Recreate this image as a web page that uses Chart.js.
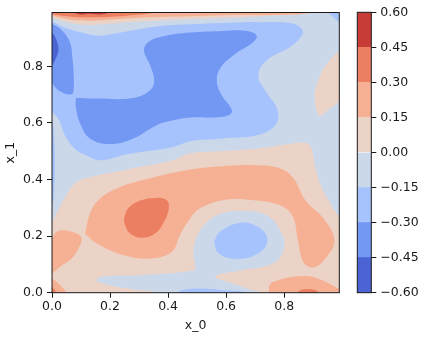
<!DOCTYPE html>
<html>
<head>
<meta charset="utf-8">
<script src="https://cdn.jsdelivr.net/npm/chart.js@4"></script>
<style>
    html, body { margin: 0; padding: 0; background: #fff; }
    canvas { position: absolute; top: 0; }
</style>
</head>
<body>
<canvas id="contour" width="340" height="337" style="left:0"></canvas>
<canvas id="colorbar" width="96" height="337" style="left:340px"></canvas>
<script>
// contour levels and their band colours (lowest band first)
var levels = [-0.6, -0.45, -0.3, -0.15, 0, 0.15, 0.3, 0.45, 0.6];
var bandColors = ['#4b63d3', '#7398f3', '#a6c3fe', '#cbd8ea', '#ecd3c7', '#f6b093', '#ec7e62', '#c83c38'];
var xTicks = [0, 0.2, 0.4, 0.6, 0.8];
var yTicks = [0, 0.2, 0.4, 0.6, 0.8];

// outlines of the filled contours, in data units
var baseField = [[-0.1, -0.1], [1.1, -0.1], [1.1, 1.1], [-0.1, 1.1]];
var peachLower = [[-0.03, 0.2], [0, 0.25], [0.028, 0.304], [0.068, 0.374], [0.097, 0.398], [0.246, 0.433], [0.418, 0.468], [0.476, 0.492], [0.59, 0.501], [0.705, 0.509], [0.82, 0.525], [0.872, 0.531], [0.892, 0.515], [0.903, 0.468], [0.907, 0.445], [0.924, 0.386], [0.959, 0.315], [0.99, 0.268], [1.03, 0.22], [1.03, -0.03], [-0.03, -0.03]];
var peachRight = [[1.03, 0.9], [0.99, 0.856], [0.947, 0.809], [0.918, 0.751], [0.905, 0.692], [0.918, 0.627], [0.93, 0.627], [0.958, 0.651], [0.99, 0.674], [1.03, 0.7]];
var peachTop = [[-0.03, 0.985], [0, 0.972], [0.055, 0.955], [0.134, 0.946], [0.217, 0.952], [0.331, 0.96], [0.476, 0.966], [0.648, 0.972], [0.762, 0.979], [0.89, 0.987], [0.93, 1.0], [0.95, 1.03], [-0.03, 1.03]];
var grayRing = [[0.38, -0.03], [0.361, 0], [0.303, 0.009], [0.223, 0.021], [0.16, 0.038], [0.154, 0.045], [0.16, 0.052], [0.189, 0.059], [0.303, 0.062], [0.487, 0.078], [0.493, 0.092], [0.487, 0.15], [0.51, 0.22], [0.568, 0.274], [0.648, 0.289], [0.74, 0.274], [0.792, 0.209], [0.798, 0.15], [0.763, 0.104], [0.648, 0.078], [0.568, 0.062], [0.562, 0.055], [0.568, 0.051], [0.63, 0.03], [0.68, 0.012], [0.717, 0], [0.74, -0.03]];
var blueEllipse = [[0.558, 0.18], [0.579, 0.215], [0.648, 0.247], [0.712, 0.231], [0.743, 0.186], [0.712, 0.139], [0.637, 0.119], [0.574, 0.139]];
var blueBottom = [[0.41, -0.03], [0.43, 0], [0.465, 0.012], [0.51, 0.015], [0.59, 0.009], [0.67, 0], [0.7, -0.03]];
var salmonMain = [[0.114, 0.209], [0.131, 0.28], [0.16, 0.327], [0.223, 0.368], [0.338, 0.404], [0.476, 0.435], [0.59, 0.447], [0.705, 0.45], [0.786, 0.439], [0.832, 0.404], [0.873, 0.327], [0.936, 0.262], [0.973, 0.186], [0.947, 0.127], [0.901, 0.089], [0.866, 0.109], [0.847, 0.186], [0.83, 0.268], [0.786, 0.309], [0.694, 0.327], [0.59, 0.327], [0.51, 0.298], [0.476, 0.262], [0.441, 0.204], [0.413, 0.145], [0.338, 0.121], [0.246, 0.133], [0.154, 0.174]];
var salmonLeft = [[-0.03, 0.05], [0, 0.068], [0.028, 0.092], [0.068, 0.121], [0.091, 0.156], [0.102, 0.192], [0.079, 0.212], [0.039, 0.221], [0.016, 0.215], [0, 0.195], [-0.03, 0.17]];
var salmonCorner = [[-0.03, 0.06], [0, 0.05], [0.028, 0.027], [0.05, 0], [0.07, -0.03], [-0.03, -0.03]];
var salmonBottomRight = [[0.752, -0.03], [0.748, 0.021], [0.763, 0.039], [0.867, 0.059], [0.936, 0.042], [0.99, 0.012], [1.03, -0.01], [1.03, -0.03]];
var salmonTop = [[-0.03, 0.99], [0, 0.979], [0.055, 0.966], [0.134, 0.961], [0.217, 0.966], [0.331, 0.973], [0.476, 0.977], [0.648, 0.981], [0.762, 0.981], [0.88, 0.987], [0.91, 1.0], [0.93, 1.03], [-0.03, 1.03]];
var orangeBlob = [[0.248, 0.262], [0.263, 0.298], [0.303, 0.325], [0.361, 0.335], [0.395, 0.327], [0.403, 0.304], [0.389, 0.256], [0.355, 0.209], [0.309, 0.194], [0.269, 0.209], [0.252, 0.239]];
var orangeCorner = [[-0.03, 0.03], [0, 0.019], [0.016, 0], [0.03, -0.03], [-0.03, -0.03]];
var orangeBottom = [[0.84, -0.03], [0.847, 0], [0.855, 0.009], [0.884, 0.013], [0.913, 0.007], [0.916, 0], [0.92, -0.03]];
var orangeTop = [[-0.03, 0.995], [0, 0.985], [0.06, 0.976], [0.13, 0.973], [0.25, 0.978], [0.34, 0.987], [0.4, 1.0], [0.42, 1.03], [-0.03, 1.03]];
var redTop = [[0.06, 1.03], [0.08, 0.988], [0.13, 0.986], [0.19, 0.988], [0.21, 1.03]];
var lightBlueMain = [[-0.03, 0.975], [0, 0.958], [0.045, 0.9365], [0.1, 0.92], [0.159, 0.908], [0.217, 0.916], [0.331, 0.9365], [0.417, 0.9457], [0.648, 0.955], [0.705, 0.956], [0.82, 0.953], [0.861, 0.933], [0.861, 0.909], [0.82, 0.868], [0.74, 0.821], [0.711, 0.768], [0.734, 0.715], [0.777, 0.645], [0.769, 0.592], [0.705, 0.556], [0.59, 0.545], [0.476, 0.535], [0.418, 0.515], [0.263, 0.49], [0.166, 0.468], [0.117, 0.486], [0.083, 0.504], [0.048, 0.549], [0.024, 0.609], [0, 0.64], [-0.03, 0.67]];
var lightBlueLens = [[-0.02, 0.64], [0, 0.61], [0.008, 0.528], [0.01, 0.433], [0.007, 0.362], [0.002, 0.316], [-0.02, 0.28]];
var lightBlueCorner = [[0.93, 1.03], [0.953, 0.989], [0.97, 0.974], [0.99, 0.956], [1.03, 0.93], [1.03, 1.03]];
var mediumMain = [[0.082, 0.689], [0.154, 0.686], [0.28, 0.688], [0.338, 0.715], [0.352, 0.751], [0.338, 0.804], [0.317, 0.856], [0.332, 0.886], [0.384, 0.906], [0.476, 0.919], [0.59, 0.925], [0.671, 0.925], [0.705, 0.909], [0.694, 0.886], [0.625, 0.839], [0.579, 0.792], [0.568, 0.745], [0.585, 0.698], [0.62, 0.645], [0.608, 0.627], [0.556, 0.619], [0.476, 0.619], [0.418, 0.609], [0.361, 0.592], [0.28, 0.545], [0.2, 0.525], [0.131, 0.545], [0.097, 0.598], [0.082, 0.656]];
var mediumLeft = [[-0.03, 0.97], [0, 0.95], [0.028, 0.933], [0.056, 0.898], [0.068, 0.856], [0.074, 0.709], [0.057, 0.7], [0.022, 0.715], [0, 0.739], [-0.03, 0.76]];
var darkLeft = [[-0.03, 0.94], [0, 0.919], [0.016, 0.892], [0.022, 0.856], [0.01, 0.821], [0, 0.804], [-0.03, 0.78]];

// painted from back to front, band index into bandColors
var layers = [
    [baseField, 3],
    [peachLower, 4], [peachRight, 4], [peachTop, 4],
    [grayRing, 3],
    [blueEllipse, 2], [blueBottom, 2],
    [salmonMain, 5], [salmonLeft, 5], [salmonCorner, 5], [salmonBottomRight, 5], [salmonTop, 5],
    [orangeBlob, 6], [orangeCorner, 6], [orangeBottom, 6], [orangeTop, 6],
    [redTop, 7],
    [lightBlueMain, 2], [lightBlueLens, 2], [lightBlueCorner, 2],
    [mediumMain, 1], [mediumLeft, 1],
    [darkLeft, 0]
];

var font = { family: 'DejaVu Sans', size: 12.5 };
var ink = '#1a1a1a';

// matplotlib draws a box round both axes
var spines = {
    id: 'spines',
    afterDatasetsDraw: function (chart) {
        var a = chart.chartArea, c = chart.ctx;
        c.save();
        c.strokeStyle = ink;
        c.lineWidth = 1;
        c.strokeRect(a.left, a.top, a.right - a.left, a.bottom - a.top);
        c.restore();
    }
};

// first dataset is drawn last, so the list is reversed
var contourSets = layers.map(function (l) {
    return {
        data: l[0].concat([l[0][0]]),
        showLine: true,
        fill: 'shape',
        backgroundColor: bandColors[l[1]],
        borderWidth: 0,
        pointRadius: 0,
        tension: l[0] === baseField ? 0 : 0.4,
        capBezierPoints: false
    };
}).reverse();

new Chart(document.getElementById('contour').getContext('2d'), {
    type: 'scatter',
    data: { datasets: contourSets },
    plugins: [spines],
    options: {
        responsive: false,
        animation: false,
        events: [],
        layout: { padding: { top: 12.5, right: 0.7 } },
        plugins: { legend: { display: false }, tooltip: { enabled: false } },
        scales: {
            x: {
                type: 'linear',
                min: 0,
                max: 0.99,
                afterBuildTicks: function (s) { s.ticks = xTicks.map(function (v) { return { value: v }; }); },
                afterFit: function (s) { s.height = 337 - 292.7; },
                grid: { drawOnChartArea: false, tickLength: 5, tickColor: ink },
                border: { display: false },
                ticks: { font: font, color: ink, padding: 2, maxRotation: 0, callback: function (v) { return v.toFixed(1); } },
                title: { display: true, text: 'x_0', font: font, color: ink, padding: { top: 3, bottom: 3.5 } }
            },
            y: {
                type: 'linear',
                min: 0,
                max: 0.99,
                afterBuildTicks: function (s) { s.ticks = yTicks.map(function (v) { return { value: v }; }); },
                afterFit: function (s) { s.width = 52; },
                grid: { drawOnChartArea: false, tickLength: 5, tickColor: ink },
                border: { display: false },
                ticks: { font: font, color: ink, padding: 4, callback: function (v) { return v.toFixed(1); } },
                title: { display: true, text: 'x_1', font: font, color: ink, padding: { top: 3, bottom: 2 } }
            }
        }
    }
});

var bandSets = bandColors.map(function (col, i) {
    return { data: [[levels[i], levels[i + 1]]], backgroundColor: col, borderWidth: 0 };
});

new Chart(document.getElementById('colorbar').getContext('2d'), {
    type: 'bar',
    data: { labels: [''], datasets: bandSets },
    plugins: [spines],
    options: {
        responsive: false,
        animation: false,
        events: [],
        grouped: false,
        barPercentage: 1,
        categoryPercentage: 1,
        layout: { padding: { top: 12.3, left: 17.3, bottom: 44.3 } },
        plugins: { legend: { display: false }, tooltip: { enabled: false } },
        scales: {
            x: { display: false },
            y: {
                position: 'right',
                min: levels[0],
                max: levels[levels.length - 1],
                afterBuildTicks: function (s) { s.ticks = levels.map(function (v) { return { value: v }; }); },
                afterFit: function (s) { s.width = 64.7; },
                grid: { drawOnChartArea: false, tickLength: 5, tickColor: ink },
                border: { display: false },
                ticks: {
                    font: font,
                    color: ink,
                    padding: 4,
                    callback: function (v) { return (v < 0 ? '\u2212' : '') + Math.abs(v).toFixed(2); }
                }
            }
        }
    }
});
</script>
</body>
</html>
